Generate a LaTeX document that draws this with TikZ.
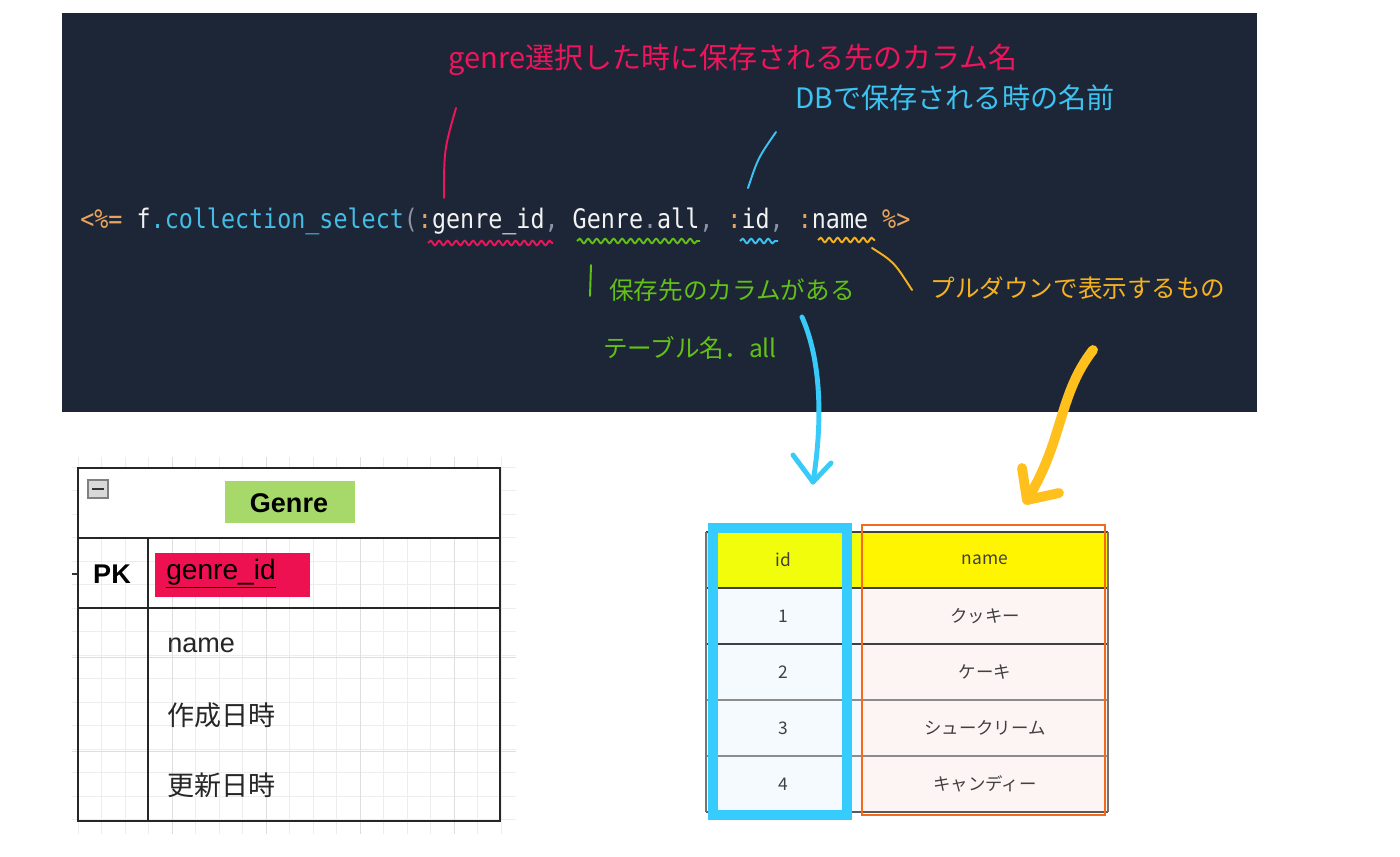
\documentclass[tikz,border=0pt]{standalone}
\usepackage{graphicx}
\usepackage{fontspec}
\setmainfont{Liberation Sans}
\newfontfamily\jpfont{Noto Sans CJK JP}
\newfontfamily\codefont{DejaVu Sans Mono}
\usetikzlibrary{decorations.pathmorphing}

\definecolor{panel}{HTML}{1D2637}
\definecolor{codeop}{HTML}{E8A45C}
\definecolor{codefn}{HTML}{45BCE6}
\definecolor{codep}{HTML}{8A93A8}
\definecolor{codew}{HTML}{F2F2F2}
\definecolor{penpink}{HTML}{F0145A}
\definecolor{penblue}{HTML}{3CC3F2}
\definecolor{pengreen}{HTML}{62C016}
\definecolor{penorange}{HTML}{F5B21E}
\definecolor{bigorange}{HTML}{FFC01E}
\definecolor{bigblue}{HTML}{38CBFA}
\definecolor{gridminor}{HTML}{EDEDED}
\definecolor{gridmajor}{HTML}{DEDEDE}
\definecolor{hlgreen}{HTML}{A6D96A}
\definecolor{hlpink}{HTML}{EE1152}
\definecolor{headid}{HTML}{F2FD0C}
\definecolor{headname}{HTML}{FFF500}
\definecolor{bodyid}{HTML}{F4FAFE}
\definecolor{bodyname}{HTML}{FDF5F3}
\definecolor{colorange}{HTML}{F26B1D}
\definecolor{colblue}{HTML}{36CDFE}

\newcommand{\codesize}{\fontsize{13.3}{16}\selectfont}
\newcommand{\ersize}{\fontsize{15.4}{18}\selectfont}
\newcommand{\cellsize}{\fontsize{9.9}{12}\selectfont}

\tikzset{
  hand/.style={line width=1.1pt, line cap=round},
  squiggle/.style={line width=1.1pt, decorate,
    decoration={snake, segment length=0.17cm, amplitude=0.045cm}},
  bigpen/.style={line cap=round, line join=round},
  erline/.style={line width=1.1pt, black!85},
  cell/.style={font=\jpfont\cellsize, text=black!75},
}

\begin{document}
\begin{tikzpicture}[x=0.02cm,y=-0.02cm]
\tikzstyle{every node}+=[inner sep=0pt]
\useasboundingbox (0,0) rectangle (1400,856);
\fill [white] (0,0) rectangle (1400,856);

% code panel
\fill [panel] (62,13) rectangle (1257,412);
\node [anchor=base west] (code) at (80,228) {\scalebox{1}[1.15]{\codefont\codesize
  \textcolor{codeop}{<\%=} \textcolor{codew}{f}\textcolor{codefn}{.collection\_select}\textcolor{codep}{(}\textcolor{codeop}{:}\textcolor{codew}{genre\_id}\textcolor{codep}{,} \textcolor{codew}{Genre}\textcolor{codep}{.}\textcolor{codew}{all}\textcolor{codep}{,} \textcolor{codeop}{:}\textcolor{codew}{id}\textcolor{codep}{,} \textcolor{codeop}{:}\textcolor{codew}{name} \textcolor{codeop}{\%>}}};

% squiggles under the arguments
\draw [squiggle, penpink] (428,243) -- (553,243);
\draw [squiggle, pengreen] (577,241) -- (700,241);
\draw [squiggle, penblue] (740,241) -- (778,241);
\draw [squiggle, penorange] (818,240) -- (875,240);

% pen notes
\node [text=penpink, font=\jpfont\fontsize{16.5}{20}\selectfont] (notecol) at (733,60) {genre選択した時に保存される先のカラム名};
\node [text=penblue, font=\jpfont\fontsize{16}{20}\selectfont] (notedb) at (955,98) {DBで保存される時の名前};
\node [text=pengreen, font=\jpfont\fontsize{14}{17}\selectfont] (notetbl) at (732,290) {保存先のカラムがある};
\node [text=pengreen, font=\jpfont\fontsize{14}{17}\selectfont] (notetbl2) at (690,348) {テーブル名．all};
\node [text=penorange, font=\jpfont\fontsize{14}{17}\selectfont] (notepull) at (1078,288) {プルダウンで表示するもの};

\coordinate (colfoot) at (444,198);
\coordinate (colhead) at (456,108);
\coordinate (dbfoot) at (748,188);
\coordinate (dbhead) at (776,132);
\coordinate (tblfoot) at (591,265);
\coordinate (tblhead) at (590,296);
\coordinate (pullfoot) at (872,248);
\coordinate (pullhead) at (912,290);
\draw [hand, penpink] (colfoot) .. controls (444,150) .. (colhead);
\draw [hand, penblue] (dbfoot) .. controls (758,158) .. (dbhead);
\draw [hand, pengreen] (tblfoot) -- (tblhead);
\draw [hand, penorange] (pullfoot) .. controls (894,262) .. (pullhead);

% Genre table, grid behind it
\foreach \i in {0,...,18}
  \draw [gridminor, line width=0.5pt] ({78+23.5*\i},457) -- ({78+23.5*\i},834);
\foreach \j in {0,...,15}
  \draw [gridminor, line width=0.5pt] (72,{467+23.5*\j}) -- (516,{467+23.5*\j});
\foreach \i in {1,...,4}
  \draw [gridmajor, line width=0.5pt] ({78+94*\i},457) -- ({78+94*\i},834);
\foreach \j in {2,3}
  \draw [gridmajor, line width=0.5pt] (72,{469+94*\j}) -- (516,{469+94*\j});

\fill [white] (79,469) rectangle (499,537);
\draw [erline] (78,468) rectangle (500,821);
\draw [erline] (78,538) -- (500,538);
\draw [erline] (78,608) -- (500,608);
\draw [erline] (148,538) -- (148,821);
\draw [black!80, line width=0.6pt] (72,574) -- (78,574);

\draw [gray, fill=black!15, line width=0.8pt] (88,480) rectangle (108,498);
\draw [black!80, line width=1.4pt] (92,489) -- (104,489);

\fill [hlgreen] (225,481) rectangle (355,523);
\fill [hlpink] (155,553) rectangle (310,597);
\node [font=\bfseries\ersize] (genrename) at (289,503) {Genre};
\node [font=\bfseries\ersize] (pk) at (112,574) {PK};
\node [anchor=west, font=\fontsize{16}{18}\selectfont, text=black] (genreid) at (166,574) {\underline{genre\_id}};
\node [anchor=west, font=\ersize, text=black!85] (fname) at (167,645) {name};
\node [anchor=west, font=\jpfont\ersize, text=black!85] (fcreated) at (167,715) {作成日時};
\node [anchor=west, font=\jpfont\ersize, text=black!85] (fupdated) at (167,785) {更新日時};

% records table
\fill [headid] (706,532) rectangle (860,588);
\fill [headname] (860,532) rectangle (1108,588);
\fill [bodyid] (706,588) rectangle (860,812);
\fill [bodyname] (860,588) rectangle (1108,812);
\draw [black!75, line width=0.8pt] (706,532) -- (1108,532);
\draw [black!75, line width=0.8pt] (706,588) -- (1108,588);
\draw [black!75, line width=0.8pt] (706,644) -- (1108,644);
\draw [black!45, line width=0.8pt] (706,700) -- (1108,700);
\draw [black!45, line width=0.8pt] (706,756) -- (1108,756);
\draw [black!65, line width=0.8pt] (706,812) -- (1108,812);
\draw [black!55, line width=0.6pt] (706,532) -- (706,812);
\draw [black!55, line width=0.6pt] (1108,532) -- (1108,812);

\node [cell] (idhead) at (783,560) {id};
\node [cell] (namehead) at (985,560) {name};
\node [cell] (id1) at (783,616) {1};
\node [cell] (id2) at (783,672) {2};
\node [cell] (id3) at (783,728) {3};
\node [cell] (id4) at (783,784) {4};
\node [cell] (name1) at (985,616) {クッキー};
\node [cell] (name2) at (985,672) {ケーキ};
\node [cell] (name3) at (985,728) {シュークリーム};
\node [cell] (name4) at (985,784) {キャンディー};

\draw [colorange, line width=1.4pt] (862,525) rectangle (1105,815);
\draw [colblue, line width=5.6pt] (713,528) rectangle (847,815);

% big arrows to the columns
\coordinate (idtail) at (802,317);
\coordinate (idtip) at (813,482);
\coordinate (nametail) at (1093,350);
\coordinate (nametip) at (1027,500);
\draw [bigpen, bigblue, line width=2.8pt] (idtail) .. controls (821,360) and (823,420) .. (idtip);
\draw [bigpen, bigblue, line width=2.8pt] (793,455) -- (idtip) -- (831,463);
\draw [bigpen, bigorange, line width=5.6pt] (nametail) .. controls (1058,395) and (1064,440) .. (nametip);
\draw [bigpen, bigorange, line width=5.6pt] (1022,468) -- (nametip) -- (1059,493);
\end{tikzpicture}
\end{document}
